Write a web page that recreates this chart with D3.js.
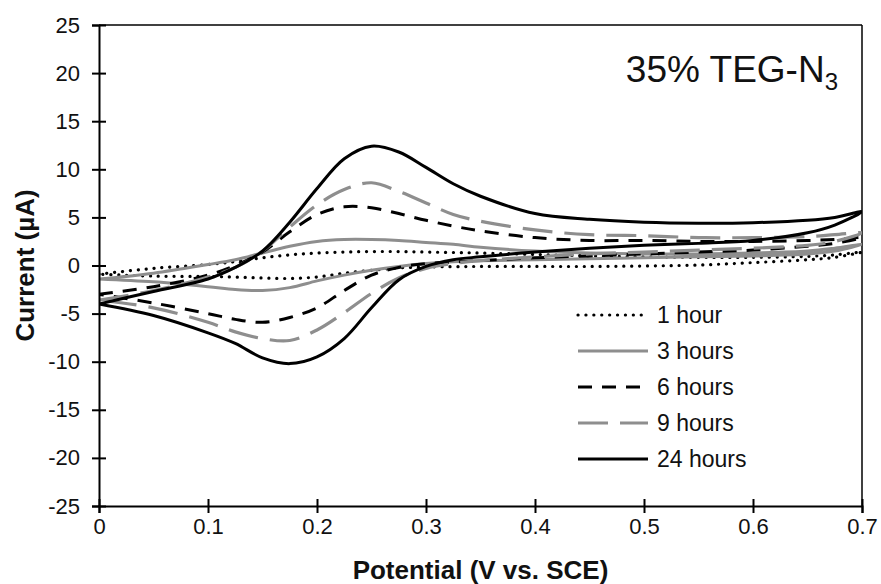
<!DOCTYPE html>
<html>
<head>
<meta charset="utf-8">
<script src="https://cdn.jsdelivr.net/npm/d3@7"></script>
<style>
  body { margin: 0; background: #fff; }
  svg { display: block; font-family: "Liberation Sans", Arial, sans-serif; }
</style>
</head>
<body>
<svg width="881" height="584"></svg>
<script>
// potential grid (V vs. SCE), forward scan 0 -> 0.7, reverse uses the same grid backwards
const potential = [0, 0.05, 0.1, 0.125, 0.15, 0.175, 0.2, 0.225, 0.25, 0.275, 0.3, 0.325, 0.35, 0.4, 0.45, 0.5, 0.55, 0.6, 0.65, 0.675, 0.7]

// currents (uA), forward branch then reverse branch (both on the grid above)
const fwd1h  = [-0.9, -0.3, 0.1, 0.4, 0.8, 1.1, 1.3, 1.4, 1.45, 1.45, 1.4, 1.35, 1.3, 1.15, 1.0, 0.9, 0.85, 0.85, 0.95, 1.1, 1.4]
const rev1h  = [-0.9, -1.1, -1.15, -1.2, -1.3, -1.35, -1.2, -0.8, -0.5, -0.25, -0.15, -0.12, -0.1, -0.1, -0.1, -0.05, 0.05, 0.3, 0.6, 0.85, 1.4]
const fwd3h  = [-1.4, -0.8, 0.1, 0.6, 1.3, 2.0, 2.5, 2.7, 2.7, 2.6, 2.4, 2.2, 1.9, 1.5, 1.3, 1.2, 1.2, 1.3, 1.5, 1.8, 2.2]
const rev3h  = [-1.4, -1.7, -2.2, -2.5, -2.6, -2.3, -1.6, -1.0, -0.5, -0.1, 0.2, 0.4, 0.5, 0.6, 0.7, 0.8, 0.9, 1.0, 1.2, 1.5, 2.2]
const fwd6h  = [-3.0, -2.2, -1.0, 0.0, 1.4, 3.5, 5.3, 6.1, 6.0, 5.4, 4.7, 4.1, 3.6, 2.9, 2.6, 2.6, 2.5, 2.5, 2.6, 2.7, 2.9]
const rev6h  = [-3.0, -3.9, -5.0, -5.6, -5.9, -5.4, -4.4, -2.6, -1.0, -0.2, 0.2, 0.35, 0.5, 0.8, 1.0, 1.2, 1.4, 1.6, 2.0, 2.3, 2.9]
const fwd9h  = [-3.6, -2.6, -1.2, -0.2, 1.5, 4.0, 6.3, 7.9, 8.6, 7.7, 6.5, 5.3, 4.6, 3.7, 3.2, 3.1, 2.9, 2.9, 3.0, 3.2, 3.4]
const rev9h  = [-3.6, -4.4, -5.9, -6.9, -7.6, -7.8, -6.7, -4.9, -2.9, -1.3, -0.3, 0.2, 0.5, 0.9, 1.2, 1.4, 1.6, 1.8, 2.1, 2.5, 3.4]
const fwd24h = [-4.0, -2.7, -1.4, -0.2, 1.5, 4.5, 8.0, 11.1, 12.4, 11.8, 10.2, 8.5, 7.2, 5.4, 4.8, 4.5, 4.4, 4.45, 4.7, 5.0, 5.6]
const rev24h = [-4.0, -5.2, -7.0, -8.1, -9.6, -10.2, -9.5, -7.6, -4.4, -1.5, -0.1, 0.6, 0.9, 1.4, 1.8, 2.1, 2.3, 2.6, 3.4, 4.2, 5.6]

const seriesNames = ["1 hour", "3 hours", "6 hours", "9 hours", "24 hours"]
const xTicks = [0, 0.1, 0.2, 0.3, 0.4, 0.5, 0.6, 0.7]
const yTicks = [-25, -20, -15, -10, -5, 0, 5, 10, 15, 20, 25]

const fwdData = [fwd1h, fwd3h, fwd6h, fwd9h, fwd24h]
const revData = [rev1h, rev3h, rev6h, rev9h, rev24h]
const styles = [
    {color: "#000", width: 3.2, dash: "0.1,7.8", cap: "round"},
    {color: "#8e8e8e", width: 3, dash: null, cap: "butt"},
    {color: "#000", width: 3, dash: "14,10", cap: "butt"},
    {color: "#8e8e8e", width: 3.2, dash: "30,12", cap: "butt"},
    {color: "#000", width: 3, dash: null, cap: "butt"}
]

const margin = {top: 25, right: 19, bottom: 78, left: 99}
const width = 881 - margin.left - margin.right
const height = 584 - margin.top - margin.bottom

const svg = d3.select("svg")
const g = svg.append("g").attr("transform", "translate(" + margin.left + "," + margin.top + ")")

const x = d3.scaleLinear().domain([0, 0.7]).range([0, width])
const y = d3.scaleLinear().domain([-25, 25]).range([height, 0])

svg.append("defs").append("clipPath").attr("id", "clip")
    .append("rect").attr("width", width).attr("height", height)

// frame top + right
g.append("line").attr("x1", 0).attr("x2", width).attr("y1", 0).attr("y2", 0)
    .attr("stroke", "#000").attr("stroke-width", 1.5)
g.append("line").attr("x1", width).attr("x2", width).attr("y1", 0).attr("y2", height)
    .attr("stroke", "#000").attr("stroke-width", 1.5)

// curves: forward then reverse as one loop
const line = d3.line()
    .x(d => x(d[0]))
    .y(d => y(d[1]))
    .curve(d3.curveCatmullRom.alpha(0.5))

const curves = g.append("g").attr("clip-path", "url(#clip)")
fwdData.forEach((f, k) => {
    let pts = potential.map((p, j) => [p, f[j]])
    for (let j = potential.length - 2; j >= 0; j--) pts.push([potential[j], revData[k][j]])
    const s = styles[k]
    curves.append("path")
        .attr("d", line(pts))
        .attr("fill", "none")
        .attr("stroke", s.color)
        .attr("stroke-width", s.width)
        .attr("stroke-dasharray", s.dash)
        .attr("stroke-linecap", s.cap)
        .attr("stroke-linejoin", "round")
})

// axes
const gx = g.append("g")
    .attr("transform", "translate(0," + height + ")")
    .call(d3.axisBottom(x).tickValues(xTicks).tickSize(7).tickPadding(5).tickFormat(d => String(d)))
const gy = g.append("g")
    .call(d3.axisLeft(y).tickValues(yTicks).tickSize(7).tickPadding(12).tickFormat(d => String(d)))

gx.selectAll(".tick line").attr("y1", -7)
gy.selectAll(".tick line").attr("x1", 7)
;[gx, gy].forEach(a => {
    a.select(".domain").attr("stroke-width", 2).attr("stroke", "#000")
    a.selectAll(".tick line").attr("stroke-width", 2).attr("stroke", "#000")
    a.selectAll("text").attr("font-size", 22).attr("fill", "#111")
        .attr("font-family", "Liberation Sans, Arial, sans-serif")
})

// axis titles
g.append("text")
    .attr("x", width / 2).attr("y", height + 73)
    .attr("text-anchor", "middle")
    .attr("font-size", 26).attr("font-weight", "bold").attr("fill", "#111")
    .text("Potential (V vs. SCE)")
g.append("text")
    .attr("transform", "translate(" + (-65) + "," + (height / 2) + ") rotate(-90)")
    .attr("text-anchor", "middle")
    .attr("font-size", 26).attr("font-weight", "bold").attr("fill", "#111")
    .text("Current (µA)")

// annotation
const ann = g.append("text")
    .attr("x", 739).attr("y", 57)
    .attr("text-anchor", "end")
    .attr("font-size", 37).attr("fill", "#111")
ann.append("tspan").text("35% TEG-N")
ann.append("tspan").attr("font-size", 24).attr("dy", 8).text("3")

// legend
const leg = g.append("g").attr("transform", "translate(479,290)")
seriesNames.forEach((name, k) => {
    const s = styles[k]
    const row = leg.append("g").attr("transform", "translate(0," + (k * 36) + ")")
    row.append("line")
        .attr("x1", 0).attr("x2", 70).attr("y1", 0).attr("y2", 0)
        .attr("stroke", s.color)
        .attr("stroke-width", s.width)
        .attr("stroke-dasharray", s.dash)
        .attr("stroke-linecap", s.cap)
    row.append("text")
        .attr("x", 79).attr("y", 8)
        .attr("font-size", 23).attr("fill", "#111")
        .text(name)
})
</script>
</body>
</html>
